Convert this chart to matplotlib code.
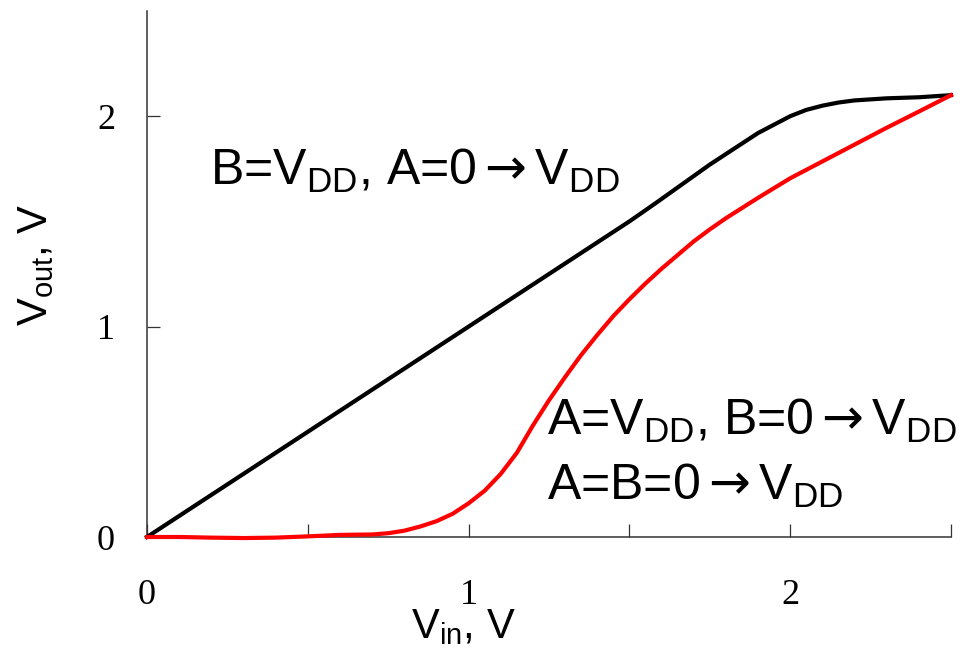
import numpy as np
import matplotlib
matplotlib.use("Agg")
import matplotlib.pyplot as plt
from matplotlib.ticker import MultipleLocator

plt.rcParams['mathtext.fontset'] = 'custom'
plt.rcParams['mathtext.rm'] = 'Liberation Sans'
plt.rcParams['mathtext.it'] = 'Liberation Sans:italic'
plt.rcParams['mathtext.sf'] = 'DejaVu Sans'  # used only for the arrow

# black curve: B=VDD, A=0->VDD
vin_b = [0, 0.5, 1.0, 1.5, 1.58, 1.75, 1.85, 1.9, 2.0, 2.05, 2.1, 2.15, 2.2, 2.3, 2.4, 2.5]
vout_b = [0, 0.5, 1.0, 1.5, 1.585, 1.77, 1.87, 1.92, 2.0, 2.03, 2.05, 2.065, 2.075, 2.085, 2.09, 2.1]

# red curve: A=VDD, B=0->VDD and A=B=0->VDD
vin_r = [0, 0.1, 0.2, 0.3, 0.4, 0.5, 0.6, 0.7, 0.75, 0.8, 0.85, 0.9, 0.95, 1.0, 1.05,
         1.1, 1.15, 1.2, 1.25, 1.3, 1.35, 1.4, 1.45, 1.5, 1.55, 1.6, 1.65, 1.7, 1.75,
         1.8, 1.9, 2.0, 2.1, 2.2, 2.3, 2.4, 2.5]
vout_r = [0, 0, -0.003, -0.005, -0.003, 0.003, 0.01, 0.012, 0.018, 0.03, 0.05, 0.075, 0.11,
          0.16, 0.22, 0.3, 0.4, 0.53, 0.65, 0.76, 0.865, 0.96, 1.05, 1.13, 1.205, 1.275,
          1.34, 1.405, 1.462, 1.515, 1.612, 1.705, 1.785, 1.865, 1.945, 2.022, 2.1]

W, H = 969, 651
fig = plt.figure(figsize=(W / 100, H / 100), dpi=100)
ax = fig.add_axes([147 / W, 1 - 537 / H, (951 - 147) / W, (537 - 11) / H])

ax.plot(vin_b, vout_b, color='black', lw=3, clip_on=False, zorder=3)
ax.plot(vin_r, vout_r, color='#ff0000', lw=3, clip_on=False, zorder=4)

ax.set_xlim(0, 2.5)
ax.set_ylim(0, 2.5)
for s in ['top', 'right']:
    ax.spines[s].set_visible(False)
for s in ['left', 'bottom']:
    ax.spines[s].set_color('#333333')
    ax.spines[s].set_linewidth(1.1)

ax.xaxis.set_major_locator(MultipleLocator(1))
ax.xaxis.set_minor_locator(MultipleLocator(0.5))
ax.set_yticks([0, 1, 2])
ax.tick_params(axis='both', which='both', direction='in', length=9.5, width=0.9,
               color='#333333', labelsize=26)
ax.tick_params(axis='x', which='major', pad=30)
ax.tick_params(axis='y', which='major', pad=23)
for lab in ax.get_xticklabels() + ax.get_yticklabels():
    lab.set_family('Liberation Serif')

sans = 'Liberation Sans'
arr = r'$\mathsf{\rightarrow}$'
dd = r'$_{\mathrm{DD}}$'
fig.text(210 / W, 1 - 185 / H, 'B=V' + dd + ', A=0' + arr + 'V' + dd,
         fontsize=36, family=sans, ha='left', va='baseline')
fig.text(547 / W, 1 - 435 / H, 'A=V' + dd + ', B=0' + arr + 'V' + dd,
         fontsize=36, family=sans, ha='left', va='baseline')
fig.text(547 / W, 1 - 500 / H, 'A=B=0' + arr + 'V' + dd,
         fontsize=36, family=sans, ha='left', va='baseline')

fig.text(36 / W, 1 - 265 / H, r'V$_{\mathrm{out}}$, V', fontsize=30, family=sans,
         rotation=90, ha='center', va='center')
fig.text(463 / W, 1 - 638 / H, r'V$_{\mathrm{in}}$, V', fontsize=30, family=sans,
         ha='center', va='baseline')

fig.savefig('out.png', dpi=100)
